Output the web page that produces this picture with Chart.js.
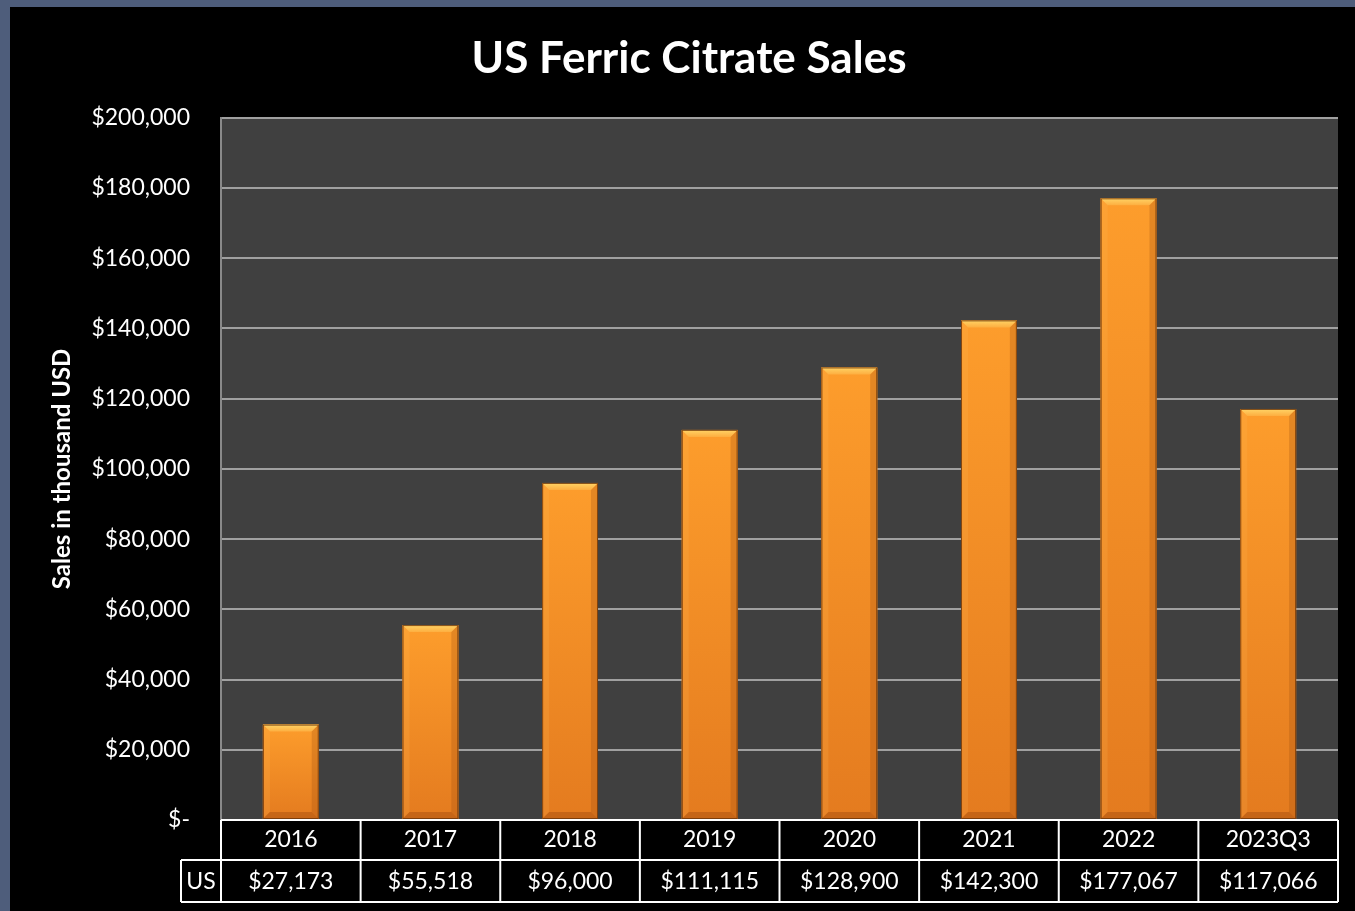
<!DOCTYPE html>
<html><head><meta charset="utf-8">
<script src="https://cdn.jsdelivr.net/npm/chart.js@4/dist/chart.umd.min.js"></script>
<style>
html,body{margin:0;padding:0;background:#4e5d7b;width:1355px;height:911px;overflow:hidden}
#wrap{position:absolute;left:10px;top:7px;width:1345px;height:904px;background:#000}
</style></head><body><div id="wrap"><canvas id="c"></canvas></div>
<script>
const categories = ['2016','2017','2018','2019','2020','2021','2022','2023Q3'];
const salesUS = [27173, 55518, 96000, 111115, 128900, 142300, 177067, 117066];
const seriesName = 'US';
const chartTitle = 'US Ferric Citrate Sales';
const yAxisTitle = 'Sales in thousand USD';
const yMin = 0, yMax = 200000, yStep = 20000;

const FONT = 'Lato, "Open Sans", "DejaVu Sans", sans-serif';
function money(v){ return v === 0 ? '$-' : '$' + Number(v).toLocaleString('en-US'); }

const titleShift = {
  id:'titleShift',
  afterLayout(chart){
    const t = chart.titleBlock;
    if (t) { t.left += 15; t.right += 15; }
  }
};

const plotBg = {
  id:'plotBg',
  beforeDraw(chart){
    const {ctx, chartArea:a} = chart;
    ctx.save(); ctx.fillStyle = '#404040';
    ctx.fillRect(a.left, a.top, a.right-a.left, a.bottom-a.top);
    ctx.restore();
  }
};

const bevelBars = {
  id:'bevelBars',
  afterDatasetsDraw(chart){
    const ctx = chart.ctx;
    chart.getDatasetMeta(0).data.forEach(el=>{
      const L = el.x - el.width/2, R = el.x + el.width/2, T = el.y, B = el.base, b = 7;
      ctx.save();
      const g = ctx.createLinearGradient(0,T,0,B);
      g.addColorStop(0,'#fd9d2c'); g.addColorStop(1,'#e47b1f');
      ctx.fillStyle = g; ctx.fillRect(L,T,R-L,B-T);
      const poly=(pts,fill)=>{ctx.beginPath();ctx.moveTo(pts[0][0],pts[0][1]);for(let i=1;i<pts.length;i++)ctx.lineTo(pts[i][0],pts[i][1]);ctx.closePath();ctx.fillStyle=fill;ctx.fill();};
      const gt = ctx.createLinearGradient(0,T,0,T+b);
      gt.addColorStop(0,'#ffd466'); gt.addColorStop(1,'#fdae40');
      poly([[L,T],[R,T],[R-b,T+b],[L+b,T+b]], gt);
      poly([[L,T],[L+b,T+b],[L+b,B-b],[L,B]], 'rgba(255,190,90,0.18)');
      poly([[R,T],[R-b,T+b],[R-b,B-b],[R,B]], 'rgba(150,70,10,0.25)');
      poly([[L,B],[L+b,B-b],[R-b,B-b],[R,B]], 'rgba(140,60,10,0.35)');
      ctx.strokeStyle = 'rgba(110,55,10,0.85)'; ctx.lineWidth = 1;
      ctx.strokeRect(L+0.5,T+0.5,R-L-1,B-T-1);
      ctx.restore();
    });
  }
};

const dataTable = {
  id:'dataTable',
  afterDraw(chart){
    const {ctx, chartArea:a, scales:{x}} = chart;
    const n = categories.length;
    const bounds = [a.left];
    for (let i=1;i<n;i++) bounds.push((x.getPixelForValue(i-1)+x.getPixelForValue(i))/2);
    bounds.push(a.right);
    const r0 = a.bottom, r1 = r0 + 40, r2 = r1 + 42, usL = a.left - 40;
    ctx.save();
    ctx.strokeStyle = '#ffffff'; ctx.lineWidth = 2;
    ctx.beginPath();
    ctx.moveTo(a.left, r0); ctx.lineTo(a.right, r0);
    ctx.moveTo(usL, r1); ctx.lineTo(a.right, r1);
    ctx.moveTo(usL, r2); ctx.lineTo(a.right, r2);
    bounds.forEach(b=>{ ctx.moveTo(b, r0); ctx.lineTo(b, r2); });
    ctx.moveTo(usL, r1); ctx.lineTo(usL, r2);
    ctx.stroke();
    ctx.fillStyle = '#ffffff'; ctx.font = '23px ' + FONT;
    ctx.textAlign = 'center'; ctx.textBaseline = 'middle';
    const ym = (r1 + r2)/2 + 1;
    ctx.fillText(seriesName, (usL + a.left)/2, ym);
    salesUS.forEach((v,i)=> ctx.fillText(money(v), x.getPixelForValue(i), ym));
    ctx.restore();
  }
};

new Chart(document.getElementById('c'), {
  type:'bar',
  data:{ labels:categories, datasets:[{ label:seriesName, data:salesUS, backgroundColor:'#f28c28', borderWidth:0, categoryPercentage:1, barPercentage:0.4 }]},
  options:{
    responsive:true, maintainAspectRatio:false, animation:false,
    layout:{ padding:{left:0,right:17,top:0,bottom:0} },
    plugins:{
      legend:{display:false}, tooltip:{enabled:false},
      title:{ display:true, text:chartTitle, color:'#ffffff', font:{family:FONT, size:44, weight:'bold'}, padding:{top:25,bottom:33} }
    },
    scales:{
      x:{
        grid:{display:false, drawTicks:false}, border:{display:false},
        ticks:{ color:'#ffffff', font:{family:FONT, size:23}, padding:6, maxRotation:0, autoSkip:false },
        afterFit(s){ s.height = 91; }
      },
      y:{
        min:yMin, max:yMax,
        ticks:{ stepSize:yStep, color:'#ffffff', font:{family:FONT, size:23}, padding:31, callback:v=>money(v) },
        grid:{ color:'#a0a0a0', lineWidth:2, drawTicks:false },
        border:{ display:true, color:'#8a8a8a', width:2 },
        title:{ display:true, text:yAxisTitle, color:'#ffffff', font:{family:FONT, size:24, weight:'bold'}, padding:{top:38,bottom:0} },
        afterFit(s){ s.width = 211; }
      }
    }
  },
  plugins:[titleShift, plotBg, bevelBars, dataTable]
});
</script></body></html>
